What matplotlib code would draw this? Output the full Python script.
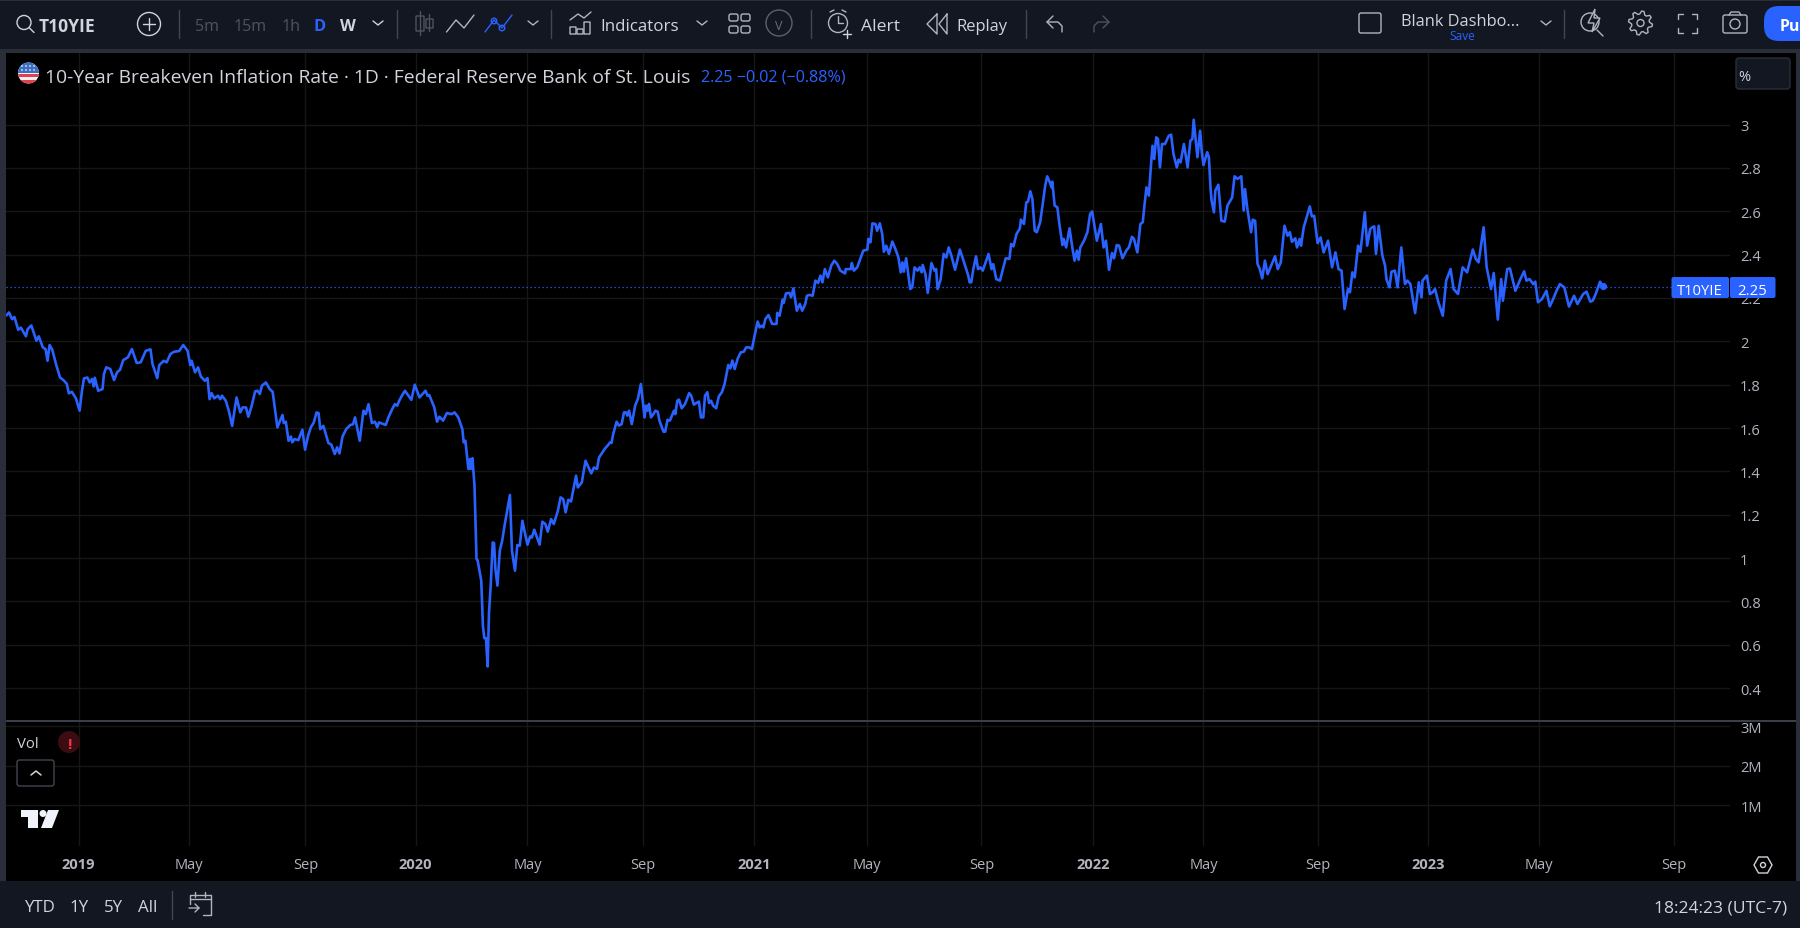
import matplotlib
matplotlib.use("Agg")
import numpy as np
import matplotlib.pyplot as plt
from matplotlib.patches import Rectangle, Circle, FancyBboxPatch, Polygon
from matplotlib.transforms import Bbox

plt.rcParams['font.family'] = ['Open Sans', 'DejaVu Sans']

years = [
2018.787,2018.794,2018.803,2018.810,2018.821,2018.829,2018.844,2018.849,2018.860,2018.875,2018.882,2018.894,2018.902,2018.908,2018.914,2018.922,2018.933,2018.945,2018.955,2018.965,2018.971,2018.980,2018.992,
2019.003,2019.010,2019.016,2019.026,2019.033,2019.040,2019.045,2019.048,2019.058,2019.071,2019.075,2019.082,2019.094,2019.105,2019.114,2019.123,2019.132,2019.146,2019.158,2019.172,2019.184,2019.199,2019.213,2019.219,2019.233,2019.239,2019.252,2019.261,2019.272,2019.283,2019.298,2019.310,2019.323,2019.331,2019.335,2019.345,2019.354,2019.362,2019.374,2019.382,2019.388,2019.394,2019.402,2019.413,2019.420,2019.425,2019.436,2019.445,2019.455,2019.468,2019.479,2019.486,2019.496,2019.503,2019.513,2019.523,2019.530,2019.537,2019.543,2019.555,2019.566,2019.575,2019.589,2019.604,2019.608,2019.614,2019.622,2019.629,2019.633,2019.640,2019.651,2019.663,2019.671,2019.680,2019.688,2019.697,2019.705,2019.711,2019.716,2019.725,2019.731,2019.740,2019.749,2019.759,2019.766,2019.773,2019.782,2019.793,2019.805,2019.813,2019.819,2019.833,2019.844,2019.851,2019.859,2019.869,2019.878,2019.885,2019.890,2019.910,2019.918,2019.929,2019.937,2019.944,2019.950,2019.958,2019.967,2019.986,2019.996,
2020.010,2020.028,2020.034,2020.039,2020.054,2020.062,2020.069,2020.080,2020.091,2020.105,2020.114,2020.125,2020.137,2020.141,2020.146,2020.155,2020.160,2020.162,2020.167,2020.173,2020.179,2020.182,2020.193,2020.198,2020.202,2020.207,2020.212,2020.216,2020.221,2020.227,2020.231,2020.235,2020.241,2020.248,2020.255,2020.262,2020.278,2020.284,2020.293,2020.300,2020.307,2020.315,2020.321,2020.330,2020.338,2020.343,2020.350,2020.366,2020.374,2020.383,2020.390,2020.400,2020.408,2020.420,2020.428,2020.436,2020.443,2020.451,2020.459,2020.474,2020.479,2020.491,2020.502,2020.519,2020.527,2020.536,2020.542,
2020.560,2020.567,2020.575,2020.579,2020.584,2020.594,2020.601,2020.609,2020.616,2020.622,2020.626,2020.631,2020.639,2020.649,2020.657,2020.666,2020.677,2020.681,2020.686,2020.690,2020.696,2020.703,2020.709,2020.716,2020.721,2020.733,2020.738,2020.745,2020.752,2020.764,2020.768,2020.774,2020.779,2020.787,2020.797,2020.809,
2020.815,2020.823,2020.838,2020.844,2020.851,2020.856,2020.863,2020.868,2020.874,2020.880,2020.889,2020.897,2020.906,2020.914,2020.925,2020.931,2020.937,2020.944,2020.953,2020.962,2020.971,2020.978,2020.987,2020.995,
2021.004,2021.012,2021.018,2021.024,2021.029,2021.035,2021.044,2021.055,2021.068,2021.070,2021.077,2021.086,2021.089,2021.096,2021.106,2021.111,2021.118,2021.128,2021.137,2021.144,2021.153,2021.158,2021.166,2021.175,2021.183,2021.191,2021.198,2021.204,2021.211,2021.220,2021.230,2021.239,2021.248,2021.257,2021.271,2021.273,2021.288,2021.291,2021.297,2021.307,2021.325,2021.337,2021.340,2021.346,2021.352,2021.361,2021.366,2021.374,2021.381,2021.386,2021.393,2021.401,2021.411,2021.420,2021.429,2021.436,2021.441,2021.445,2021.452,2021.464,2021.470,2021.477,2021.486,2021.492,2021.498,2021.501,2021.509,2021.516,2021.527,2021.536,2021.541,2021.545,2021.554,2021.563,2021.571,2021.578,2021.586,2021.597,2021.611,2021.622,2021.636,2021.640,2021.645,2021.651,2021.659,2021.665,2021.672,2021.679,2021.696,2021.705,2021.710,2021.719,2021.730,2021.744,2021.747,2021.758,2021.763,2021.770,2021.779,2021.789,2021.792,2021.801,2021.808,2021.813,2021.820,2021.826,2021.833,2021.839,2021.849,2021.856,2021.864,2021.870,2021.877,2021.883,2021.885,2021.892,2021.900,2021.906,2021.915,2021.919,2021.926,2021.936,2021.945,2021.951,2021.958,2021.963,2021.968,2021.979,2021.989,2021.997,
2022.003,2022.017,2022.029,2022.037,2022.044,2022.053,2022.062,2022.068,2022.076,2022.083,2022.093,2022.104,2022.112,2022.121,2022.127,2022.137,2022.146,2022.153,2022.158,2022.164,2022.171,2022.178,2022.182,2022.187,2022.193,2022.198,2022.204,2022.210,2022.219,2022.230,2022.237,2022.244,2022.254,2022.259,2022.265,2022.275,2022.286,2022.294,2022.300,
2022.304,2022.315,2022.323,2022.328,2022.333,2022.344,2022.349,2022.354,2022.357,2022.364,2022.368,2022.377,2022.386,2022.396,2022.404,2022.418,2022.425,2022.434,2022.445,2022.452,2022.456,2022.463,2022.474,2022.479,2022.486,2022.493,2022.500,2022.507,2022.515,2022.523,2022.545,2022.553,2022.562,2022.573,2022.582,2022.589,2022.595,2022.605,2022.610,2022.618,2022.622,2022.630,2022.648,2022.654,2022.661,2022.671,2022.680,2022.689,2022.702,2022.714,2022.724,2022.733,2022.742,2022.751,2022.761,2022.767,2022.774,2022.781,2022.791,2022.798,2022.811,2022.818,2022.827,2022.833,2022.839,2022.844,2022.852,2022.863,2022.871,2022.875,2022.884,2022.890,2022.900,2022.908,2022.919,2022.930,2022.937,2022.946,2022.960,2022.971,2022.979,2022.982,2022.995,
2023.004,2023.012,2023.019,2023.029,2023.042,2023.052,2023.065,2023.074,2023.087,2023.101,2023.114,2023.131,2023.140,2023.148,2023.155,2023.163,2023.172,2023.185,2023.193,2023.205,2023.215,2023.220,2023.233,2023.241,2023.257,2023.270,2023.283,2023.290,2023.299,2023.310,2023.316,2023.324,2023.336,2023.349,2023.359,2023.369,2023.379,2023.389,2023.402,2023.416,2023.431,2023.441,2023.458,2023.468,2023.479,2023.486,2023.495,2023.508,2023.516,
]
values = [
2.121,2.133,2.102,2.112,2.053,2.063,2.023,2.056,2.073,2.003,2.023,1.972,1.964,1.910,1.983,1.961,1.895,1.833,1.821,1.804,1.760,1.767,1.737,
1.680,1.772,1.829,1.833,1.810,1.826,1.792,1.832,1.772,1.780,1.849,1.880,1.872,1.821,1.857,1.869,1.913,1.926,1.964,1.900,1.903,1.956,1.963,1.895,1.830,1.890,1.910,1.903,1.941,1.952,1.955,1.983,1.956,1.890,1.910,1.857,1.880,1.838,1.818,1.830,1.733,1.761,1.737,1.749,1.733,1.749,1.726,1.680,1.610,1.741,1.672,1.695,1.695,1.652,1.703,1.769,1.772,1.757,1.795,1.810,1.780,1.767,1.603,1.660,1.623,1.629,1.541,1.561,1.534,1.549,1.544,1.592,1.500,1.564,1.603,1.626,1.672,1.669,1.595,1.610,1.580,1.531,1.523,1.480,1.511,1.483,1.561,1.595,1.614,1.617,1.649,1.541,1.680,1.664,1.710,1.623,1.629,1.603,1.626,1.614,1.649,1.687,1.710,1.703,1.726,1.749,1.772,1.730,1.800,
1.741,1.772,1.749,1.752,1.695,1.629,1.652,1.634,1.669,1.664,1.672,1.649,1.595,1.534,1.541,1.411,1.457,1.411,1.461,1.334,0.995,0.991,0.896,0.688,0.631,0.631,0.500,0.749,0.873,1.072,1.069,0.949,0.873,1.034,1.080,1.149,1.291,1.034,0.942,1.060,1.057,1.172,1.126,1.062,1.100,1.095,1.131,1.062,1.168,1.157,1.122,1.180,1.157,1.218,1.280,1.272,1.211,1.269,1.261,1.380,1.326,1.349,1.449,1.391,1.418,1.411,1.464,
1.506,1.518,1.534,1.531,1.572,1.629,1.611,1.618,1.672,1.672,1.657,1.680,1.618,1.703,1.734,1.803,1.649,1.703,1.680,1.711,1.649,1.664,1.680,1.675,1.634,1.583,1.583,1.638,1.634,1.680,1.664,1.726,1.731,1.691,1.711,1.761,
1.749,1.708,1.722,1.649,1.649,1.749,1.765,1.715,1.726,1.703,1.691,1.746,1.765,1.803,1.891,1.875,1.911,1.872,1.921,1.949,1.952,1.972,1.972,1.964,
2.034,2.091,2.064,2.072,2.064,2.103,2.121,2.080,2.080,2.131,2.118,2.192,2.177,2.221,2.223,2.203,2.244,2.141,2.172,2.141,2.172,2.210,2.214,2.210,2.280,2.269,2.303,2.272,2.333,2.295,2.349,2.372,2.356,2.326,2.313,2.333,2.333,2.361,2.326,2.341,2.418,2.423,2.472,2.456,2.544,2.541,2.510,2.544,2.495,2.413,2.441,2.403,2.460,2.426,2.387,2.318,2.364,2.321,2.383,2.241,2.249,2.341,2.326,2.341,2.318,2.352,2.310,2.223,2.361,2.326,2.333,2.241,2.284,2.403,2.387,2.433,2.395,2.330,2.423,2.372,2.303,2.272,2.272,2.333,2.392,2.333,2.341,2.326,2.403,2.333,2.356,2.287,2.280,2.364,2.383,2.380,2.449,2.438,2.495,2.521,2.561,2.541,2.641,2.644,2.692,2.656,2.510,2.503,2.549,2.626,2.718,2.761,2.736,2.710,2.736,2.626,2.618,2.541,2.444,2.472,2.433,2.521,2.426,2.372,2.418,2.376,2.433,2.464,2.503,2.587,
2.599,2.464,2.541,2.433,2.464,2.330,2.407,2.383,2.444,2.441,2.383,2.418,2.433,2.482,2.472,2.410,2.541,2.549,2.626,2.710,2.672,2.825,2.902,2.841,2.941,2.933,2.802,2.910,2.910,2.948,2.953,2.864,2.802,2.838,2.825,2.910,2.802,2.925,2.933,
3.022,2.849,2.971,2.872,2.813,2.872,2.849,2.702,2.649,2.595,2.695,2.722,2.556,2.552,2.626,2.664,2.761,2.749,2.761,2.603,2.702,2.610,2.503,2.561,2.556,2.357,2.333,2.290,2.372,2.310,2.392,2.333,2.364,2.533,2.487,2.503,2.459,2.475,2.433,2.472,2.441,2.526,2.622,2.576,2.579,2.453,2.479,2.410,2.464,2.341,2.410,2.333,2.326,2.149,2.241,2.226,2.318,2.295,2.441,2.413,2.595,2.441,2.518,2.526,2.530,2.403,2.533,2.395,2.349,2.287,2.249,2.321,2.326,2.249,2.433,2.264,2.280,2.264,2.130,2.272,2.203,2.280,2.303,
2.218,2.226,2.241,2.180,2.118,2.280,2.333,2.241,2.218,2.341,2.318,2.423,2.380,2.364,2.441,2.526,2.341,2.241,2.315,2.100,2.287,2.187,2.333,2.336,2.233,2.280,2.323,2.280,2.287,2.264,2.275,2.180,2.195,2.233,2.161,2.195,2.233,2.264,2.249,2.160,2.210,2.172,2.218,2.229,2.183,2.187,2.218,2.275,2.253,
]
last_value = 2.25
price_ticks = [0.4, 0.6, 0.8, 1, 1.2, 1.4, 1.6, 1.8, 2, 2.2, 2.4, 2.6, 2.8, 3]
price_labels = ['0.4', '0.6', '0.8', '1', '1.2', '1.4', '1.6', '1.8', '2', '2.2', '2.4', '2.6', '2.8', '3']
vol_ticks = [1, 2, 3]
vol_labels = ['1M', '2M', '3M']
time_ticks = [2019.0, 2019.328, 2019.672, 2019.9985, 2020.330, 2020.672, 2021.002, 2021.335,
              2021.675, 2022.007, 2022.333, 2022.673, 2022.999, 2023.328, 2023.728]
time_labels = ['2019', 'May', 'Sep', '2020', 'May', 'Sep', '2021', 'May',
               'Sep', '2022', 'May', 'Sep', '2023', 'May', 'Sep']

W, H = 1800, 929
BLUE = '#2962ff'
BAR = '#131722'
GUT = '#2a2e39'
GRID = '#161616'
AX = '#b2b5be'
FG = '#d1d4dc'
DIM = '#50535e'

fig = plt.figure(figsize=(W / 100, H / 100), dpi=100, facecolor=BAR)

back = fig.add_axes([6 / W, 1 - 882 / H, 1790 / W, 828 / H], facecolor='black', zorder=-1)
back.axis('off')
back.add_patch(Rectangle((0, 0), 1, 1, transform=back.transAxes, fc='black', ec='none'))

def pane(x0, y0, x1, y1):
    return fig.add_axes([x0 / W, 1 - y1 / H, (x1 - x0) / W, (y1 - y0) / H], facecolor='black')

XL = (2018.7849, 2023.893)
ax = pane(6, 54, 1730, 722)
ax.plot(years, values, color=BLUE, lw=1.9, solid_joinstyle='round', zorder=3)
ax.plot(years[-1], values[-1], 'o', color=BLUE, ms=5.2, mew=0, zorder=4)
ax.axhline(last_value, color=BLUE, lw=0.9, ls=(0, (1, 2.2)), zorder=2)
ax.set_xlim(*XL)
ax.set_ylim(0.2486, 3.3298)
ax.set_yticks(price_ticks, price_labels)
ax.set_xticks(time_ticks)
ax.tick_params(axis='x', length=0, labelbottom=False)
ax.yaxis.tick_right()
ax.tick_params(axis='y', length=0, pad=7.2, labelsize=10.5, labelcolor=AX)
ax.grid(True, color=GRID, lw=1)
ax.set_axisbelow(True)
for s in ax.spines.values():
    s.set_visible(False)

vax = pane(6, 722, 1730, 847)
vax.set_xlim(*XL)
vax.set_ylim(-0.03, 3.135)
vax.set_yticks(vol_ticks, vol_labels)
vax.set_xticks(time_ticks, time_labels)
vax.yaxis.tick_right()
vax.tick_params(axis='y', length=0, pad=7.6, labelsize=10.5, labelcolor=AX)
vax.tick_params(axis='x', length=0, pad=8, labelsize=10.5, labelcolor=AX)
vax.grid(True, color=GRID, lw=1)
vax.set_axisbelow(True)
for s in vax.spines.values():
    s.set_visible(False)
for lab, name in zip(vax.get_xticklabels(), time_labels):
    if name.isdigit():
        lab.set_fontweight('bold')
for lab in vax.get_yticklabels():
    lab.set_clip_box(Bbox.from_extents(0, 0, W, H - 722))
    lab.set_clip_on(True)

ui = fig.add_axes([0, 0, 1, 1], facecolor='none', zorder=10)
ui.set_xlim(0, W)
ui.set_ylim(H, 0)
ui.axis('off')

def rect(x0, y0, x1, y1, color, z=1):
    ui.add_patch(Rectangle((x0, y0), x1 - x0, y1 - y0, fc=color, ec='none', zorder=z))

def line(xs, ys, color=FG, lw=1.0):
    ui.plot(xs, ys, color=color, lw=lw, solid_capstyle='round', solid_joinstyle='round')

def circ(x, y, r, ec=FG, fc='none', lw=1.0):
    ui.add_patch(Circle((x, y), r, fc=fc, ec=ec, lw=lw))

def box(x0, y0, x1, y1, ec=FG, fc='none', r=2.5, lw=1.0, z=2):
    ui.add_patch(FancyBboxPatch((x0 + r, y0 + r), x1 - x0 - 2 * r, y1 - y0 - 2 * r,
                                boxstyle=f'round,pad={r},rounding_size={r}', fc=fc, ec=ec, lw=lw, zorder=z))

def txt(x, y, s, color=FG, size=11.4, ha='left', weight='normal', z=5):
    ui.text(x, y, s, color=color, fontsize=size, ha=ha, va='center_baseline', fontweight=weight, zorder=z)

def chev(x, y, color=FG, up=False):
    d = -3 if up else 3
    line([x - 5, x, x + 5], [y - d / 1.5, y + d / 1.5, y - d / 1.5], color, 1.0)

# frame strips
rect(0, 0, W, 1.5, GUT)
rect(0, 50, W, 54, GUT)
rect(0, 50, 6, 882, GUT)
rect(1796, 50, W, 882, GUT)
rect(6, 721.3, 1796, 722.8, '#3a3e4a', 3)

# toolbar: left
circ(24, 23.5, 7, FG, lw=1.0)
line([29.5, 34], [29, 33.5])
txt(39, 24.5, 'T10YIE', FG, 12.6, weight='bold')
circ(149, 25, 11.5)
line([143, 155], [25, 25])
line([149, 149], [19, 31])
for sx in (179, 397, 551, 811, 1026, 1564):
    line([sx, sx], [11, 39], '#434651', 1.0)
txt(207, 25, '5m', DIM, 11.6, 'center')
txt(250, 25, '15m', DIM, 11.6, 'center')
txt(291, 25, '1h', DIM, 11.6, 'center')
txt(320, 25, 'D', BLUE, 11.8, 'center', 'bold')
txt(348, 25, 'W', FG, 11.8, 'center', 'bold')
chev(378, 24)
# candles
line([420, 420], [12, 36], DIM)
box(416, 17, 424, 32, DIM, r=0.5)
line([429, 429], [15, 32], DIM)
box(426, 20, 433, 29, DIM, r=0.5)
line([446.5, 456, 464, 474], [33, 21, 29, 16], AX)
line([485, 494, 502, 512], [33, 21, 29, 16], BLUE)
circ(494, 22, 2.8, BLUE, BAR)
circ(502, 29, 2.8, BLUE, BAR)
chev(533, 24, AX)
line([570, 578, 584, 591], [21, 15, 19, 13], AX)
box(570, 28, 576, 35, AX, r=0.3)
box(577, 30, 583, 35, AX, r=0.3)
box(584, 23, 590, 35, AX, r=0.3)
txt(600, 25, 'Indicators', FG, 12.2)
chev(702, 24, AX)
for qx in (729, 741):
    for qy in (15, 27):
        box(qx, qy, qx + 9, qy + 7, AX, r=2)
circ(779, 24, 13, '#5d606b')
txt(779, 25, 'V', '#6b6f7a', 9, 'center')
circ(838, 24, 9.5, AX)
line([838, 838, 843], [17, 24, 24], AX)
line([830, 834], [13, 11], AX)
line([846, 842], [13, 11], AX)
line([843, 851], [35, 35], FG)
line([847, 847], [31, 39], FG)
txt(861, 25, 'Alert', FG, 12.6)
line([937, 927, 937, 937], [15, 25, 35, 15], AX)
line([947, 939, 947, 947], [15, 25, 35, 15], AX)
txt(956, 25, 'Replay', FG, 11.9)
line([1053, 1047, 1053], [17, 23, 29], AX)
line([1047, 1058, 1062, 1062], [23, 23, 27, 33], AX)
line([1103, 1109, 1103], [17, 23, 29], DIM)
line([1109, 1098, 1094, 1094], [23, 23, 27, 33], DIM)

# toolbar: right
box(1359, 14, 1381, 34, AX, r=2)
txt(1401, 20, 'Blank Dashbo...', FG, 11.8)
txt(1462.5, 35, 'Save', BLUE, 8.6, 'center')
chev(1546, 24, AX)
circ(1590, 23, 9, AX)
line([1597, 1603], [31, 37], AX)
ui.add_patch(Polygon([(1595, 10), (1588, 24), (1594, 24), (1592, 33), (1600, 19), (1594, 19)],
                     fc=BAR, ec=AX, lw=1.0, zorder=3))
gear_t = np.linspace(0, 2 * np.pi, 33)[:-1]
gear_r = np.array([12.0, 12.0, 9.0, 9.0] * 8)
ui.add_patch(Polygon(np.c_[1640.5 + gear_r * np.cos(gear_t + 0.1), 24 + gear_r * np.sin(gear_t + 0.1)],
                     fc='none', ec=AX, lw=1.0))
circ(1640.5, 24, 3.5, AX)
for (x0, y0, dx, dy) in ((1678, 15, 1, 1), (1697, 15, -1, 1), (1678, 34, 1, -1), (1697, 34, -1, -1)):
    line([x0 + 5 * dx, x0, x0], [y0, y0, y0 + 5 * dy], AX)
box(1723, 16, 1747, 34, AX, r=2)
line([1729, 1731, 1739, 1741], [16, 13, 13, 16], AX)
circ(1735, 25, 5, AX)
box(1764, 7, 1830, 42, 'none', BLUE, r=15)
txt(1780, 25, 'Pu', 'white', 11.4, weight='bold')

# legend
ui.add_patch(Circle((28.5, 74), 10.5, fc='#f0f0f0', ec='none'))
fl = ui.add_patch(Rectangle((18, 75), 21, 3.4, fc='#e2414b', ec='none'))
fl2 = ui.add_patch(Rectangle((18, 80.5), 21, 4, fc='#e2414b', ec='none'))
fl3 = ui.add_patch(Rectangle((18, 63), 21, 11, fc='#3c6fc4', ec='none'))
clip = Circle((28.5, 74), 10.5, transform=ui.transData)
for p in (fl, fl2, fl3):
    p.set_clip_path(clip)
for dx in (22, 26, 30, 34):
    for dy in (67, 71):
        ui.add_patch(Circle((dx, dy), 0.8, fc='white', ec='none', zorder=3))
txt(45, 75.5, '10-Year Breakeven Inflation Rate · 1D · Federal Reserve Bank of St. Louis', FG, 13.85)
txt(701, 75.5, '2.25 −0.02 (−0.88%)', BLUE, 11.6)
box(1736, 59, 1790, 90, GUT, BAR, r=3)
txt(1738, 75, '%', FG, 10.5)

# price label
box(1671.5, 278, 1729, 299, 'none', BLUE, r=2, z=4)
box(1730, 278, 1775.5, 299, 'none', BLUE, r=2, z=4)
txt(1700, 289, 'T10YIE', 'white', 10.6, 'center')
txt(1752.5, 289, f'{last_value:.2f}', 'white', 10.7, 'center')

# volume legend
txt(17, 742, 'Vol', FG, 10.7)
ui.add_patch(Circle((69, 743), 11, fc='#3b0d13', ec='none'))
txt(69, 743.5, '!', '#f23645', 11, 'center', 'bold')
box(17, 761, 54, 787, '#434651', 'black', r=2.5)
line([31, 36, 41], [776, 772, 776], FG, 1.1)
# logo
ui.add_patch(Polygon([(21, 811), (38, 811), (38, 829), (28, 829), (28, 818), (21, 818)], fc='#f0f3fa', ec='none'))
ui.add_patch(Circle((43, 814.5), 3.5, fc='#f0f3fa', ec='none'))
ui.add_patch(Polygon([(48, 811), (59, 811), (52, 829), (41, 829)], fc='#f0f3fa', ec='none'))

# settings hexagon
ui.add_patch(Polygon([(1754, 866), (1758.5, 858), (1767.5, 858), (1772, 866), (1767.5, 874), (1758.5, 874)],
                     fc='none', ec=FG, lw=1.0))
circ(1763, 866, 2.5)

# bottom bar
txt(39, 906, 'YTD', FG, 12.2, 'center')
txt(79, 906, '1Y', FG, 12.2, 'center')
txt(113, 906, '5Y', FG, 12.2, 'center')
txt(148, 906, 'All', FG, 12.2, 'center')
line([171.5, 171.5], [892, 920], '#434651')
line([190, 190, 211, 211, 203], [905, 896, 896, 916, 916], AX)
line([190, 211], [900, 900], AX)
line([195, 195], [893, 898], AX)
line([205, 205], [893, 898], AX)
line([189, 199, 195], [909, 909, 905], AX)
line([199, 195], [909, 913], AX)
txt(1787, 907, '18:24:23 (UTC-7)', FG, 12.6, 'right')

fig.savefig('out.png', dpi=100, facecolor=fig.get_facecolor())
